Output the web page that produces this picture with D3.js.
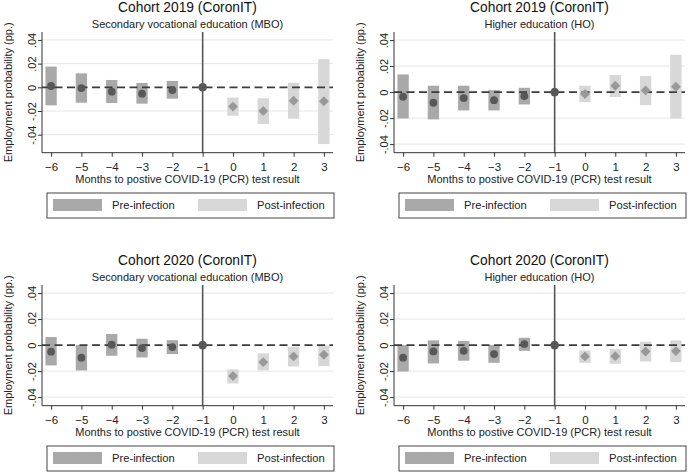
<!DOCTYPE html>
<html>
<head>
<meta charset="utf-8">
<script src="https://cdn.jsdelivr.net/npm/d3@7"></script>
<style>
  body { margin: 0; background: #fff; }
  svg { display: block; font-family: "Liberation Sans", Arial, sans-serif; }
</style>
</head>
<body>
<script>
// months relative to positive test; -1 is the reference month (fixed at 0)
var months = [-6, -5, -4, -3, -2, -1, 0, 1, 2, 3];
var yTicks = [-0.04, -0.02, 0, 0.02, 0.04];
var yTickLabels = ["-.04", "-.02", "0", ".02", ".04"];

var titles = ["Cohort 2019 (CoronIT)", "Cohort 2019 (CoronIT)", "Cohort 2020 (CoronIT)", "Cohort 2020 (CoronIT)"];
var subtitles = ["Secondary vocational education (MBO)", "Higher education (HO)", "Secondary vocational education (MBO)", "Higher education (HO)"];

// point estimates and confidence bounds (null = reference month, no interval)
var mbo2019Est = [0.0011, -0.0006, -0.0037, -0.0054, -0.0023, 0, -0.0163, -0.0200, -0.0113, -0.0118];
var mbo2019Lo  = [-0.0152, -0.0130, -0.0132, -0.0138, -0.0096, null, -0.0240, -0.0310, -0.0265, -0.0479];
var mbo2019Hi  = [0.0175, 0.0118, 0.0062, 0.0037, 0.0054, null, -0.0087, -0.0093, 0.0039, 0.0237];

var ho2019Est = [-0.0036, -0.0082, -0.0046, -0.0062, -0.0031, 0, -0.0015, 0.0049, 0.0013, 0.0041];
var ho2019Lo  = [-0.0203, -0.0210, -0.0141, -0.0141, -0.0095, null, -0.0077, -0.0038, -0.0100, -0.0203];
var ho2019Hi  = [0.0136, 0.0049, 0.0049, 0.0015, 0.0033, null, 0.0049, 0.0131, 0.0123, 0.0287];

var mbo2020Est = [-0.0051, -0.0097, 0.0003, -0.0023, -0.0015, 0, -0.0238, -0.0131, -0.0087, -0.0074];
var mbo2020Lo  = [-0.0156, -0.0195, -0.0082, -0.0095, -0.0069, null, -0.0295, -0.0195, -0.0164, -0.0162];
var mbo2020Hi  = [0.0062, 0.0000, 0.0085, 0.0049, 0.0038, null, -0.0187, -0.0064, -0.0013, -0.0003];

var ho2020Est = [-0.0097, -0.0049, -0.0044, -0.0069, 0.0008, 0, -0.0087, -0.0085, -0.0049, -0.0046];
var ho2020Lo  = [-0.0203, -0.0141, -0.0120, -0.0136, -0.0044, null, -0.0136, -0.0144, -0.0126, -0.0131];
var ho2020Hi  = [0.0000, 0.0036, 0.0031, 0.0000, 0.0056, null, -0.0041, -0.0031, 0.0026, 0.0036];

var yDomains = [[-0.0552, 0.0467], [-0.0466, 0.0462], [-0.0466, 0.0462], [-0.0466, 0.0462]];

var estimates = [mbo2019Est, ho2019Est, mbo2020Est, ho2020Est];
var lows = [mbo2019Lo, ho2019Lo, mbo2020Lo, ho2020Lo];
var highs = [mbo2019Hi, ho2019Hi, mbo2020Hi, ho2020Hi];

var W = 691, H = 473;
var svg = d3.select("body").append("svg").attr("width", W).attr("height", H);

// panel geometry (relative to panel origin)
var colX = [0, 352], rowY = [0, 253];
var plotL = 42, plotR = 333, plotT = 32, plotB = 152.7;

var preBar = "#a9a9a9", postBar = "#d7d7d7", dotCol = "#585858", diaCol = "#999999";

for (var p = 0; p < 4; p++) {
  drawPanel(p);
}

function drawPanel(p) {
  var g = svg.append("g")
    .attr("transform", "translate(" + colX[p % 2] + "," + rowY[Math.floor(p / 2)] + ")");

  var x = d3.scaleLinear().domain([-6.3, 3.3]).range([plotL, plotR]);
  var y = d3.scaleLinear().domain(yDomains[p]).range([plotB, plotT]);
  var cx = (plotL + plotR) / 2;

  var est = estimates[p], lo = lows[p], hi = highs[p];

  // titles
  g.append("text").attr("x", cx).attr("y", 12).attr("text-anchor", "middle")
    .attr("font-size", "13.8px").attr("fill", "#111").text(titles[p]);
  g.append("text").attr("x", cx).attr("y", 28).attr("text-anchor", "middle")
    .attr("font-size", "11px").attr("fill", "#222").text(subtitles[p]);

  // gridlines
  g.selectAll(".grid").data(yTicks.filter(function(d) { return d != 0; }))
    .enter().append("line")
    .attr("x1", plotL).attr("x2", plotR)
    .attr("y1", function(d) { return y(d); }).attr("y2", function(d) { return y(d); })
    .attr("stroke", "#e6e6e6").attr("stroke-width", 1);

  // confidence bars
  var bw = 11.3;
  g.selectAll(".ci").data(months.filter(function(m, i) { return lo[i] !== null; }))
    .enter().append("rect")
    .attr("x", function(m) { return x(m) - bw / 2; })
    .attr("y", function(m) { return y(hi[months.indexOf(m)]); })
    .attr("width", bw)
    .attr("height", function(m) { var i = months.indexOf(m); return y(lo[i]) - y(hi[i]); })
    .attr("fill", function(m) { return m < 0 ? preBar : postBar; });

  // zero line
  g.append("line").attr("x1", plotL).attr("x2", plotR)
    .attr("y1", y(0)).attr("y2", y(0))
    .attr("stroke", "#3c3c3c").attr("stroke-width", 1.8)
    .attr("stroke-dasharray", "8,4.5");

  // reference month line
  g.append("line").attr("x1", x(-1)).attr("x2", x(-1))
    .attr("y1", plotT).attr("y2", plotB)
    .attr("stroke", "#555").attr("stroke-width", 1.6);

  // axes
  var yAxis = d3.axisLeft(y).tickValues(yTicks).tickSize(4)
    .tickFormat(function(d, i) { return yTickLabels[i]; });
  var ya = g.append("g").attr("transform", "translate(" + plotL + ",0)").call(yAxis);
  ya.select(".domain").attr("d", "M0," + plotT + "V" + plotB).attr("stroke", "#333");
  ya.selectAll(".tick line").attr("stroke", "#333");
  ya.selectAll(".tick text")
    .attr("font-size", "11px").attr("fill", "#222")
    .attr("transform", "rotate(-90)")
    .attr("x", 0).attr("y", -6).attr("dy", "0")
    .attr("text-anchor", "middle");
  ya.attr("font-family", null);

  var xAxis = d3.axisBottom(x).tickValues(months).tickSize(4).tickFormat(d3.format("d"));
  var xa = g.append("g").attr("transform", "translate(0," + plotB + ")").call(xAxis);
  xa.select(".domain").attr("d", "M" + plotL + ",0H" + plotR).attr("stroke", "#333");
  xa.selectAll(".tick line").attr("stroke", "#333");
  xa.selectAll(".tick text").attr("font-size", "11.5px").attr("fill", "#222").attr("y", 10).attr("dy", "0.71em");
  xa.attr("font-family", null);

  // points: circles before infection, diamonds after
  g.selectAll(".dot").data(months.filter(function(m) { return m <= -1; }))
    .enter().append("circle")
    .attr("cx", function(m) { return x(m); })
    .attr("cy", function(m) { return y(est[months.indexOf(m)]); })
    .attr("r", function(m) { return m == -1 ? 4.3 : 3.9; })
    .attr("fill", dotCol);

  var diamond = d3.symbol().type(d3.symbolDiamond2).size(62);
  g.selectAll(".dia").data(months.filter(function(m) { return m >= 0; }))
    .enter().append("path")
    .attr("d", diamond)
    .attr("transform", function(m) { return "translate(" + x(m) + "," + y(est[months.indexOf(m)]) + ")"; })
    .attr("fill", diaCol);

  // axis titles
  g.append("text").attr("x", cx).attr("y", 183).attr("text-anchor", "middle")
    .attr("font-size", "11px").attr("fill", "#222")
    .text("Months to postive COVID-19 (PCR) test result");
  g.append("text").attr("transform", "translate(11.5," + ((plotT + plotB) / 2) + ") rotate(-90)")
    .attr("text-anchor", "middle").attr("font-size", "11px").attr("fill", "#222")
    .text("Employment probability (pp.)");

  // legend
  var lg = g.append("g");
  lg.append("rect").attr("x", plotL + 5).attr("y", 193).attr("width", plotR - plotL - 4).attr("height", 25)
    .attr("fill", "#fff").attr("stroke", "#444").attr("stroke-width", 1);
  lg.append("rect").attr("x", plotL + 11).attr("y", 199).attr("width", 49).attr("height", 12).attr("fill", preBar);
  lg.append("text").attr("x", plotL + 70).attr("y", 209).attr("font-size", "11.2px").attr("fill", "#222").text("Pre-infection");
  lg.append("rect").attr("x", plotL + 156).attr("y", 199).attr("width", 49).attr("height", 12).attr("fill", postBar);
  lg.append("text").attr("x", plotL + 215).attr("y", 209).attr("font-size", "11.2px").attr("fill", "#222").text("Post-infection");
}
</script>
</body>
</html>
